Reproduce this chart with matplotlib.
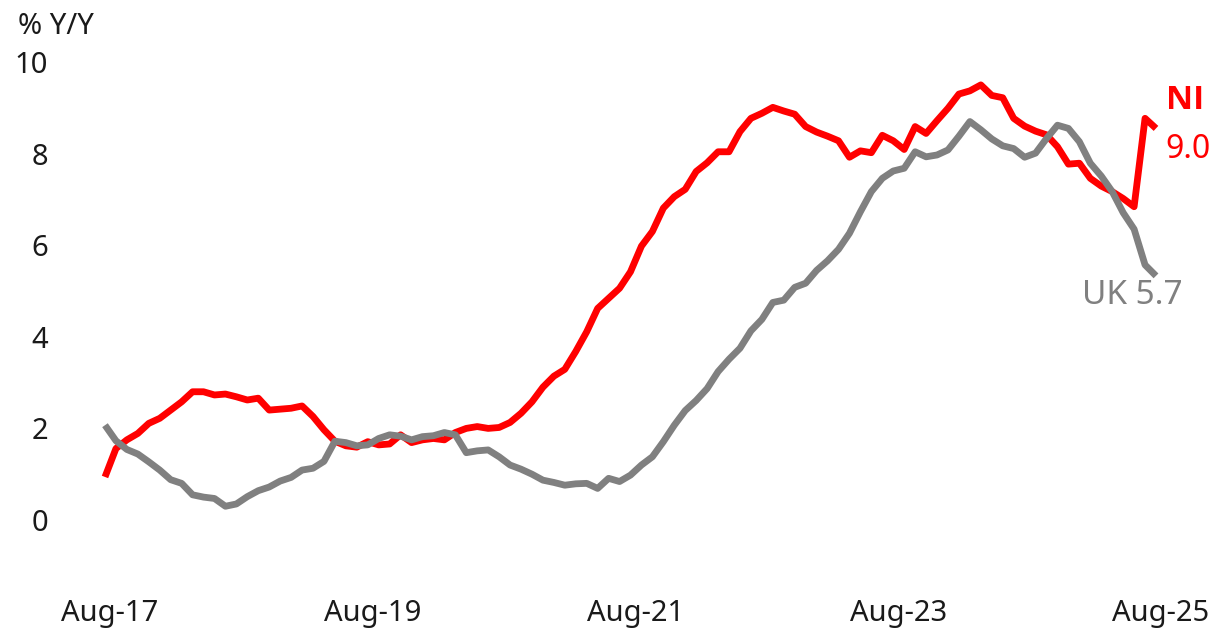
import matplotlib
matplotlib.use("Agg")
import matplotlib.pyplot as plt
import matplotlib.transforms as mtransforms
import numpy as np

plt.rcParams['font.family'] = ['Noto Sans', 'DejaVu Sans']

# Monthly series, Aug-17 .. Aug-25 (97 months), % Y/Y
ni = [0.94, 1.56, 1.75, 1.89, 2.11, 2.22, 2.40, 2.58, 2.80, 2.80,
      2.73, 2.75, 2.69, 2.62, 2.66, 2.40, 2.42, 2.44, 2.49, 2.26,
      1.97, 1.72, 1.62, 1.59, 1.71, 1.64, 1.66, 1.86, 1.69, 1.75,
      1.78, 1.75, 1.91, 2.00, 2.04, 2.00, 2.02, 2.13, 2.33, 2.58,
      2.90, 3.14, 3.29, 3.68, 4.11, 4.62, 4.84, 5.06, 5.42, 5.98,
      6.30, 6.81, 7.06, 7.22, 7.61, 7.80, 8.04, 8.04, 8.48, 8.77,
      8.88, 9.01, 8.93, 8.86, 8.59, 8.47, 8.38, 8.28, 7.92, 8.06,
      8.02, 8.40, 8.28, 8.09, 8.59, 8.44, 8.72, 8.99, 9.30, 9.37,
      9.50, 9.27, 9.22, 8.77, 8.60, 8.49, 8.41, 8.15, 7.77, 7.79,
      7.46, 7.29, 7.17, 7.02, 6.84, 8.77, 8.55]

uk = [2.07, 1.73, 1.54, 1.44, 1.27, 1.09, 0.88, 0.80, 0.55, 0.50,
      0.47, 0.30, 0.35, 0.51, 0.64, 0.72, 0.85, 0.93, 1.09, 1.13,
      1.28, 1.72, 1.69, 1.62, 1.64, 1.78, 1.86, 1.83, 1.75, 1.82,
      1.84, 1.91, 1.86, 1.47, 1.51, 1.53, 1.38, 1.20, 1.11, 1.00,
      0.87, 0.82, 0.76, 0.79, 0.80, 0.69, 0.91, 0.84, 0.98, 1.20,
      1.38, 1.71, 2.07, 2.39, 2.61, 2.87, 3.24, 3.51, 3.75, 4.13,
      4.38, 4.75, 4.80, 5.08, 5.17, 5.45, 5.66, 5.91, 6.26, 6.73,
      7.17, 7.46, 7.62, 7.68, 8.04, 7.93, 7.97, 8.08, 8.38, 8.70,
      8.52, 8.32, 8.17, 8.11, 7.92, 8.01, 8.33, 8.62, 8.55, 8.26,
      7.79, 7.51, 7.17, 6.71, 6.35, 5.57, 5.33]

x_tick_labels = ['Aug-17', 'Aug-19', 'Aug-21', 'Aug-23', 'Aug-25']
x_tick_pos = [0, 24, 48, 72, 96]
y_ticks = [0, 2, 4, 6, 8, 10]

W, H = 1213, 633
fig = plt.figure(figsize=(W / 100, H / 100), dpi=100)

# axes placement in pixels
ax_l, ax_r, ax_t, ax_b = 80, 1165, 50, 580
ax = fig.add_axes([ax_l / W, 1 - ax_b / H, (ax_r - ax_l) / W, (ax_b - ax_t) / H])

months = np.arange(len(ni))
ax.plot(months, ni, color='#FF0000', lw=4.9, solid_joinstyle='round',
        solid_capstyle='butt', zorder=2)
ax.plot(months, uk, color='#808080', lw=4.9, solid_joinstyle='round',
        solid_capstyle='butt', zorder=3)

# pixel-to-data mapping
pxm = 10.948
ax.set_xlim(-(105 - ax_l) / pxm, 96 + (ax_r - 1156) / pxm)
ppu = 45.8
ax.set_ylim((520 - ax_b) / ppu, (520 - ax_t) / ppu)

ax.set_xticks(x_tick_pos)
ax.set_xticklabels(x_tick_labels)
ax.set_yticks(y_ticks)
ax.set_yticklabels([str(v) for v in y_ticks])
ax.tick_params(axis='both', length=0, labelsize=21, colors='#1a1a1a')
ax.tick_params(axis='y', pad=23)
ax.tick_params(axis='x', pad=14)
for s in ax.spines.values():
    s.set_visible(False)

# nudge x tick labels slightly right, as in the reference
offset = mtransforms.ScaledTranslation(5 / 100, 0, fig.dpi_scale_trans)
for lbl in ax.get_xticklabels():
    lbl.set_transform(lbl.get_transform() + offset)

fig.text(18 / W, 1 - 26 / H, '% Y/Y', fontsize=21, color='#1a1a1a',
         ha='left', va='center')

ax.text(96.9, 9.15, 'NI', color='#FF0000', fontsize=24, fontweight='bold',
        family=['Open Sans', 'DejaVu Sans'], ha='left', va='center')
ax.text(96.9, 8.10, '9.0', color='#FF0000', fontsize=23,
        ha='left', va='center')
ax.text(89.2, 4.91, 'UK 5.7', color='#808080', fontsize=24,
        ha='left', va='center')

fig.savefig('out.png', dpi=100)
